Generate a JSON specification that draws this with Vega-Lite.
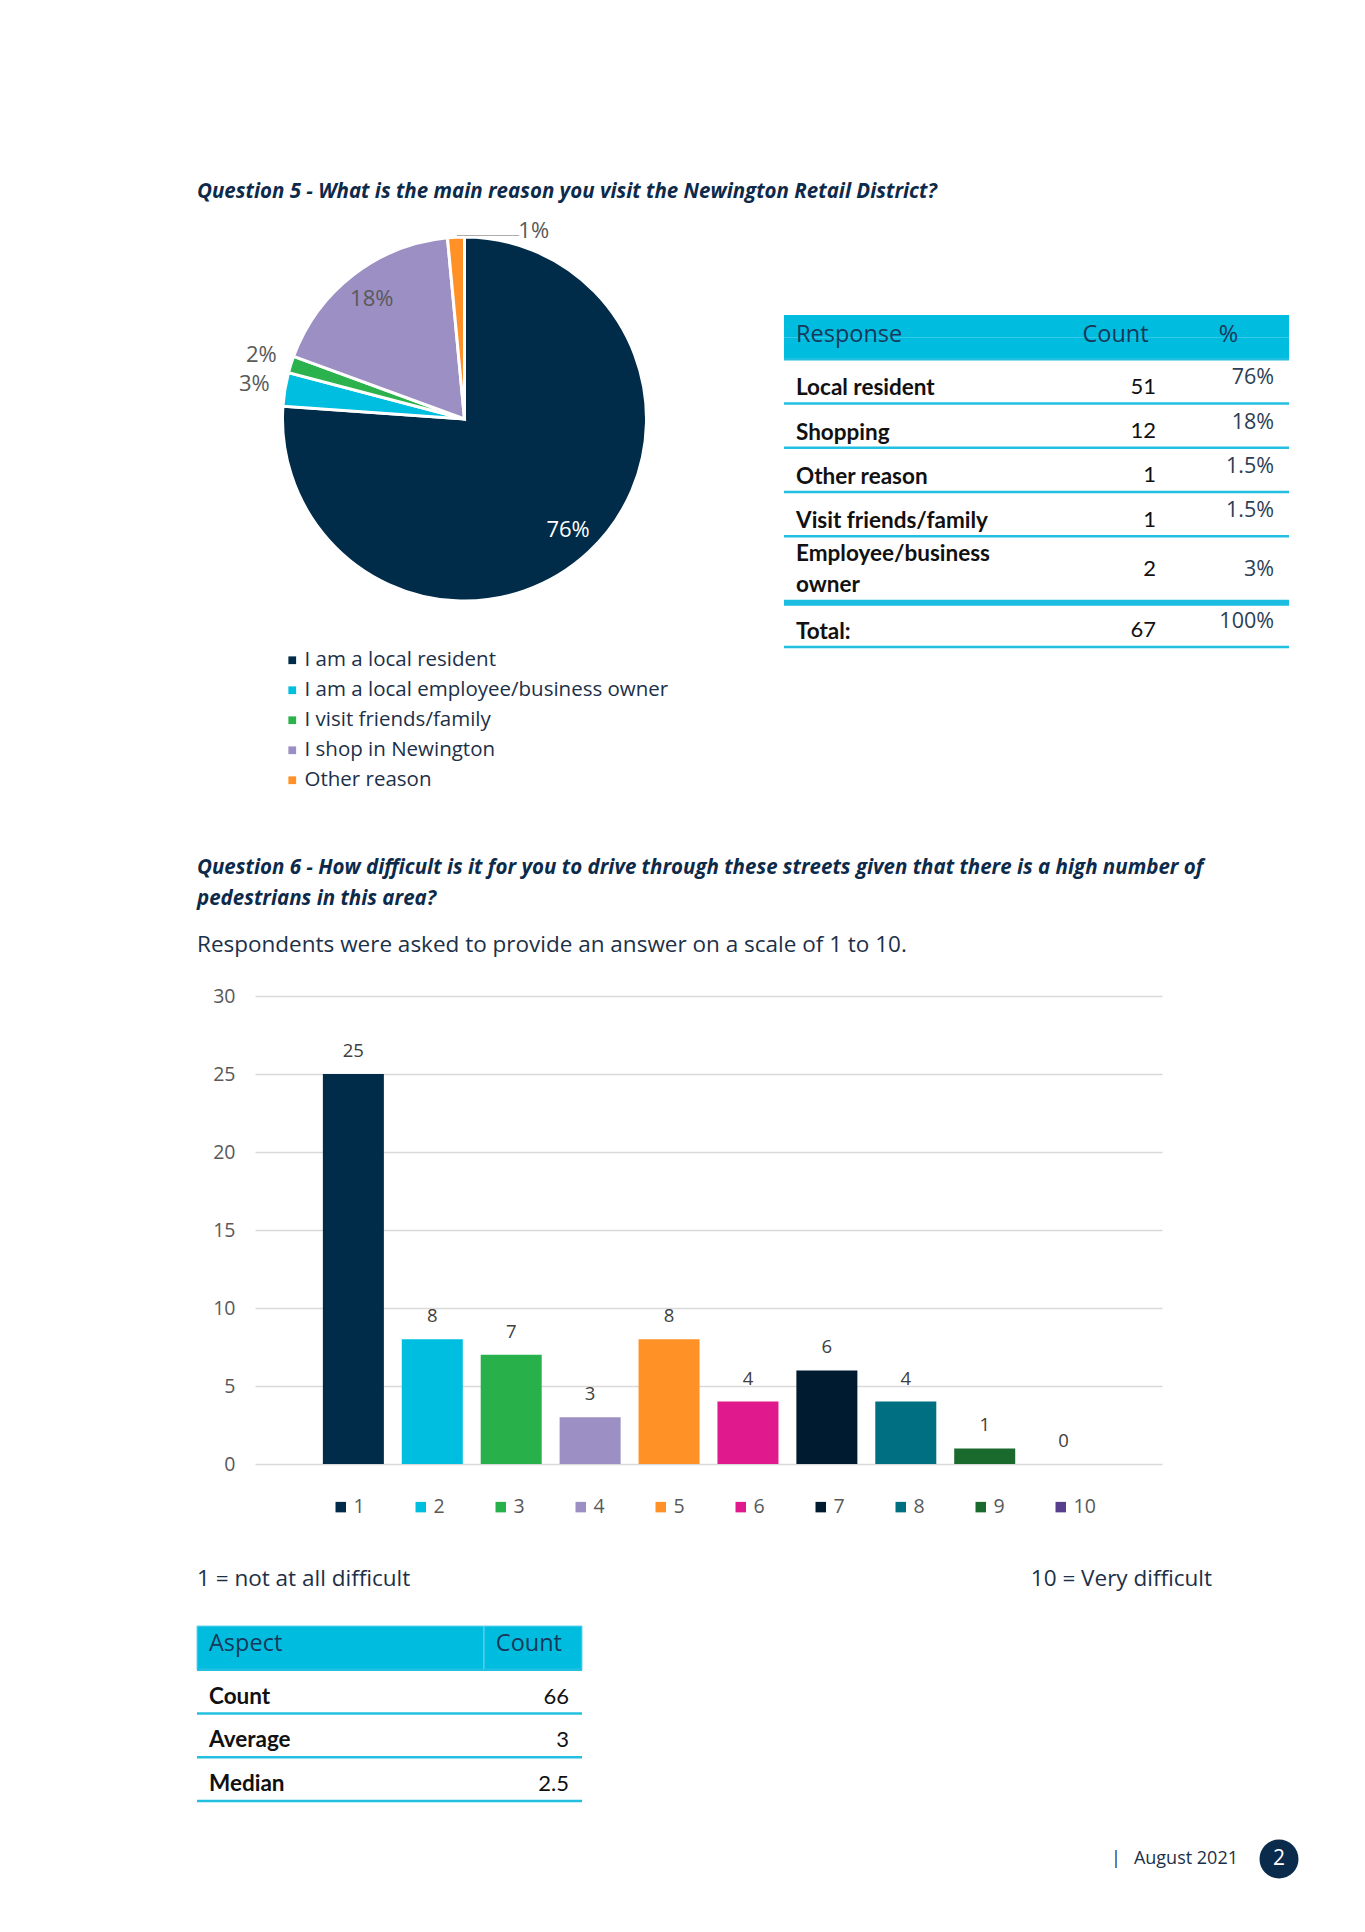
{
  "$schema": "https://vega.github.io/schema/vega-lite/v6.json",
  "autosize": "none",
  "padding": {"left": 197, "top": 315, "right": 1168, "bottom": 1617},
  "background": "white",
  "config": {"view": {"stroke": null}, "font": "Open Sans", "text": {"font": "Open Sans"}},
  "datasets": {
    "reasons": [
      {"option": 1, "reason": "I am a local resident", "count": 51, "label": "76%"},
      {"option": 2, "reason": "I am a local employee/business owner", "count": 2, "label": "3%"},
      {"option": 3, "reason": "I visit friends/family", "count": 1, "label": "2%"},
      {"option": 4, "reason": "I shop in Newington", "count": 12, "label": "18%"},
      {"option": 5, "reason": "Other reason", "count": 1, "label": "1%"}
    ],
    "q5table": [
      {"response": "Local resident", "label": "Local resident", "count": 51, "pct": "76%"},
      {"response": "Shopping", "label": "Shopping", "count": 12, "pct": "18%"},
      {"response": "Other reason", "label": "Other reason", "count": 1, "pct": "1.5%"},
      {"response": "Visit friends/family", "label": "Visit friends/family", "count": 1, "pct": "1.5%"},
      {"response": "Employee/business owner", "label": ["Employee/business", "owner"], "count": 2, "pct": "3%"},
      {"response": "Total:", "label": "Total:", "count": 67, "pct": "100%"}
    ],
    "q6": [
      {"score": 1, "count": 25}, {"score": 2, "count": 8}, {"score": 3, "count": 7}, {"score": 4, "count": 3}, {"score": 5, "count": 8},
      {"score": 6, "count": 4}, {"score": 7, "count": 6}, {"score": 8, "count": 4}, {"score": 9, "count": 1}, {"score": 10, "count": 0}
    ],
    "q6stats": [
      {"aspect": "Count", "value": "66"},
      {"aspect": "Average", "value": "3"},
      {"aspect": "Median", "value": "2.5"}
    ],
    "notes": [
      {"end": "low", "text": "1 = not at all difficult"},
      {"end": "high", "text": "10 = Very difficult"}
    ],
    "footer": [{"date": "August 2021", "page": "2"}]
  },
  "spacing": 0,
  "resolve": {"scale": {"color": "independent"}, "legend": {"color": "independent"}},
  "vconcat": [
    {
      "bounds": "flush",
      "spacing": 0,
      "hconcat": [
        {
          "width": 587, "height": 475,
          "data": {"name": "reasons"},
          "title": {"text": "Question 5 - What is the main reason you visit the Newington Retail District?", "anchor": "start", "frame": "group", "offset": -7, "font": "Open Sans", "fontSize": 20.5, "fontWeight": "bold", "fontStyle": "italic", "color": "#0d2a4a"},
          "encoding": {
            "theta": {"field": "count", "type": "quantitative", "stack": true},
            "order": {"field": "option", "type": "quantitative"},
            "color": {
              "field": "reason", "type": "nominal",
              "scale": {"domain": ["I am a local resident", "I am a local employee/business owner", "I visit friends/family", "I shop in Newington", "Other reason"], "range": ["#002b49", "#00bedf", "#2bb24c", "#9c8fc4", "#ff9126"]},
              "legend": {"orient": "none", "direction": "vertical", "legendX": 85, "legendY": 335, "title": null, "symbolType": "square", "symbolSize": 60, "symbolStrokeWidth": 0, "labelFont": "Open Sans", "labelFontSize": 20.5, "labelColor": "#1c3048", "labelOffset": 2, "rowPadding": 9, "labelLimit": 600, "padding": 0}
            }
          },
          "layer": [
            {"mark": {"type": "arc", "outerRadius": 182, "stroke": "white", "strokeWidth": 3, "xOffset": -26, "yOffset": -133.5}},
            {"mark": {"type": "text", "radius": 152, "xOffset": -26, "yOffset": -133.5, "fontSize": 22}, "encoding": {"text": {"condition": {"test": "datum.option === 1 || datum.option === 4", "field": "label"}, "value": ""}, "color": {"condition": {"test": "datum.option === 1", "value": "#ffffff"}, "value": "#595959"}}},
            {"mark": {"type": "text", "radius": 213, "xOffset": -26, "yOffset": -133.5, "fontSize": 22}, "encoding": {"text": {"condition": {"test": "datum.option === 2 || datum.option === 3", "field": "label"}, "value": ""}, "color": {"value": "#595959"}}},
            {"mark": {"type": "text", "radius": 188, "xOffset": 52, "yOffset": -133.5, "fontSize": 22}, "encoding": {"text": {"condition": {"test": "datum.option === 5", "field": "label"}, "value": ""}, "color": {"value": "#595959"}}},
            {"mark": {"type": "text", "radius": 182, "xOffset": -25, "yOffset": -135, "align": "left", "font": "DejaVu Sans Mono", "fontSize": 10.3}, "encoding": {"text": {"condition": {"test": "datum.option === 5", "value": "──────────"}, "value": ""}, "color": {"value": "#a6a6a6"}}}
          ]
        },
        {
          "width": 285, "height": 332,
          "data": {"name": "q5table"},
          "encoding": {"y": {"field": "response", "type": "nominal", "scale": {"domain": ["Response", "Response ", "Local resident", "Local resident ", "Shopping", "Shopping ", "Other reason", "Other reason ", "Visit friends/family", "Visit friends/family ", "Employee/business owner", "Employee/business owner ", "Employee/business owner  ", "Total:", "Total: "], "paddingInner": 0, "paddingOuter": 0}, "axis": {"orient": "left", "labels": false, "ticks": false, "grid": false, "title": null, "domainColor": "#22bfe0", "domainWidth": 2.5, "zindex": 1}}},
          "layer": [
            {"data": {"values": [{"response": "Response"}, {"response": "Response "}]}, "mark": {"type": "rect", "fill": "#00bde0"}},
            {"data": {"values": [{"response": "Response"}]}, "mark": {"type": "text", "align": "left", "dx": -130.5, "dy": 9, "fontSize": 23.5, "color": "#17385a"}, "encoding": {"text": {"field": "response"}}},
            {"mark": {"type": "rule", "color": "#22bfe0", "strokeWidth": 2.5}, "encoding": {"y": {"field": "response", "type": "nominal", "bandPosition": 0, "axis": null}}},
            {"data": {"values": [{"response": "Total: "}]}, "mark": {"type": "rule", "color": "#22bfe0", "strokeWidth": 2.5}, "encoding": {"y": {"field": "response", "type": "nominal", "bandPosition": 1, "axis": null}}},
            {"data": {"values": [{"response": "Total:"}]}, "mark": {"type": "rule", "color": "#1cbde0", "strokeWidth": 6}, "encoding": {"y": {"field": "response", "type": "nominal", "bandPosition": 0, "axis": null}}},
            {"transform": [{"filter": "datum.response !== 'Employee/business owner'"}], "mark": {"type": "text", "align": "left", "dx": -130.5, "dy": 18, "fontSize": 22.5, "font": "Lato", "fontWeight": "bold", "color": "#111111"}, "encoding": {"text": {"field": "label"}}},
            {"transform": [{"filter": "datum.response === 'Employee/business owner'"}], "mark": {"type": "text", "align": "left", "dx": -130.5, "dy": 7, "fontSize": 22.5, "font": "Lato", "fontWeight": "bold", "color": "#111111", "lineHeight": 31}, "encoding": {"text": {"field": "label"}}}
          ]
        },
        {
          "width": 99, "height": 332,
          "data": {"name": "q5table"},
          "encoding": {"y": {"field": "response", "type": "nominal", "scale": {"domain": ["Response", "Response ", "Local resident", "Local resident ", "Shopping", "Shopping ", "Other reason", "Other reason ", "Visit friends/family", "Visit friends/family ", "Employee/business owner", "Employee/business owner ", "Employee/business owner  ", "Total:", "Total: "], "paddingInner": 0, "paddingOuter": 0}, "axis": null}},
          "layer": [
            {"data": {"values": [{"response": "Response"}, {"response": "Response "}]}, "mark": {"type": "rect", "fill": "#00bde0"}},
            {"data": {"values": [{"response": "Response", "head": "Count"}]}, "mark": {"type": "text", "align": "left", "dx": -36, "dy": 9, "fontSize": 23.5, "color": "#17385a"}, "encoding": {"text": {"field": "head"}}},
            {"mark": {"type": "rule", "color": "#22bfe0", "strokeWidth": 2.5}, "encoding": {"y": {"field": "response", "type": "nominal", "bandPosition": 0, "axis": null}}},
            {"data": {"values": [{"response": "Total: "}]}, "mark": {"type": "rule", "color": "#22bfe0", "strokeWidth": 2.5}, "encoding": {"y": {"field": "response", "type": "nominal", "bandPosition": 1, "axis": null}}},
            {"data": {"values": [{"response": "Total:"}]}, "mark": {"type": "rule", "color": "#1cbde0", "strokeWidth": 6}, "encoding": {"y": {"field": "response", "type": "nominal", "bandPosition": 0, "axis": null}}},
            {"transform": [{"filter": "datum.response !== 'Employee/business owner'"}], "mark": {"type": "text", "align": "right", "dx": 37.5, "dy": 16.5, "fontSize": 22, "font": "Lato", "color": "#111111"}, "encoding": {"text": {"field": "count"}}},
            {"transform": [{"filter": "datum.response === 'Employee/business owner'"}], "mark": {"type": "text", "align": "right", "dx": 37.5, "dy": 21.5, "fontSize": 22, "font": "Lato", "color": "#111111"}, "encoding": {"text": {"field": "count"}}}
          ]
        },
        {
          "width": 121, "height": 332,
          "data": {"name": "q5table"},
          "encoding": {"y": {"field": "response", "type": "nominal", "scale": {"domain": ["Response", "Response ", "Local resident", "Local resident ", "Shopping", "Shopping ", "Other reason", "Other reason ", "Visit friends/family", "Visit friends/family ", "Employee/business owner", "Employee/business owner ", "Employee/business owner  ", "Total:", "Total: "], "paddingInner": 0, "paddingOuter": 0}, "axis": {"orient": "right", "labels": false, "ticks": false, "grid": false, "title": null, "domainColor": "#22bfe0", "domainWidth": 2.5, "zindex": 1}}},
          "layer": [
            {"data": {"values": [{"response": "Response"}, {"response": "Response "}]}, "mark": {"type": "rect", "fill": "#00bde0"}},
            {"data": {"values": [{"response": "Response", "head": "%"}]}, "mark": {"type": "text", "align": "center", "dx": 0, "dy": 9, "fontSize": 23.5, "color": "#17385a"}, "encoding": {"text": {"field": "head"}}},
            {"mark": {"type": "rule", "color": "#22bfe0", "strokeWidth": 2.5}, "encoding": {"y": {"field": "response", "type": "nominal", "bandPosition": 0, "axis": null}}},
            {"data": {"values": [{"response": "Total: "}]}, "mark": {"type": "rule", "color": "#22bfe0", "strokeWidth": 2.5}, "encoding": {"y": {"field": "response", "type": "nominal", "bandPosition": 1, "axis": null}}},
            {"data": {"values": [{"response": "Total:"}]}, "mark": {"type": "rule", "color": "#1cbde0", "strokeWidth": 6}, "encoding": {"y": {"field": "response", "type": "nominal", "bandPosition": 0, "axis": null}}},
            {"transform": [{"filter": "datum.response !== 'Employee/business owner'"}], "mark": {"type": "text", "align": "right", "dx": 45.5, "dy": 8, "fontSize": 21.5, "color": "#2c3e55"}, "encoding": {"text": {"field": "pct"}}},
            {"transform": [{"filter": "datum.response === 'Employee/business owner'"}], "mark": {"type": "text", "align": "right", "dx": 45.5, "dy": 22.5, "fontSize": 21.5, "color": "#2c3e55"}, "encoding": {"text": {"field": "pct"}}}
          ]
        }
      ]
    },
    {
      "bounds": "flush",
      "spacing": 0,
      "hconcat": [
        {"width": 58, "height": 1, "data": {"values": [{}]}, "mark": "text", "encoding": {"text": {"value": ""}}},
        {
          "width": 907, "height": 745,
          "data": {"name": "q6"},
          "title": {
            "text": ["Question 6 - How difficult is it for you to drive through these streets given that there is a high number of", "pedestrians in this area?"],
            "subtitle": "Respondents were asked to provide an answer on a scale of 1 to 10.",
            "anchor": "start", "frame": "group", "dx": -58, "offset": -159,
            "font": "Open Sans", "fontSize": 20.5, "fontWeight": "bold", "fontStyle": "italic", "color": "#0d2a4a", "lineHeight": 31,
            "subtitleFont": "Open Sans", "subtitleFontSize": 22.5, "subtitleColor": "#1c3048", "subtitlePadding": 24
          },
          "encoding": {
            "x": {"field": "score", "type": "ordinal", "scale": {"paddingInner": 0.227, "paddingOuter": 0.86}, "axis": null},
            "y": {"field": "count", "type": "quantitative", "scale": {"domain": [-5, 42.76], "nice": false, "zero": false}, "axis": {"values": [0, 5, 10, 15, 20, 25, 30], "domain": false, "ticks": false, "grid": true, "gridColor": "#d9d9d9", "gridWidth": 1.5, "labelFont": "Open Sans", "labelFontSize": 19.5, "labelColor": "#595959", "labelPadding": 20, "title": null}}
          },
          "layer": [
            {
              "mark": {"type": "bar"},
              "encoding": {
                "color": {
                  "field": "score", "type": "ordinal",
                  "scale": {"range": ["#002b49", "#00bedf", "#28b14a", "#9c8fc4", "#ff9126", "#e0198d", "#001a30", "#006f82", "#1b6a2d", "#573f8d"]},
                  "legend": {"orient": "none", "legendX": 134, "legendY": 700, "direction": "horizontal", "columns": 10, "gridAlign": "all", "columnPadding": 35, "title": null, "symbolType": "square", "symbolSize": 110, "symbolStrokeWidth": 0, "labelFont": "Open Sans", "labelFontSize": 19.5, "labelColor": "#595959", "labelOffset": 3, "padding": 0}
                }
              }
            },
            {"mark": {"type": "text", "dy": -23, "fontSize": 18.5, "color": "#404040"}, "encoding": {"text": {"field": "count", "type": "quantitative"}}}
          ]
        }
      ]
    },
    {
      "width": 1015, "height": 83,
      "data": {"name": "notes"},
      "encoding": {
        "x": {"field": "end", "type": "nominal", "scale": {"type": "point", "domain": ["low", "high"], "padding": 0}, "axis": null},
        "text": {"field": "text"}
      },
      "layer": [
        {"transform": [{"filter": "datum.end === 'low'"}], "mark": {"type": "text", "align": "left", "dy": -4.5, "fontSize": 22.5, "color": "#1c3048"}},
        {"transform": [{"filter": "datum.end === 'high'"}], "mark": {"type": "text", "align": "right", "dy": -4.5, "fontSize": 22.5, "color": "#1c3048"}}
      ]
    },
    {
      "bounds": "flush",
      "spacing": 0,
      "hconcat": [
        {
          "width": 287, "height": 175,
          "data": {"name": "q6stats"},
          "encoding": {"y": {"field": "aspect", "type": "nominal", "scale": {"domain": ["Aspect", "Count", "Average", "Median"], "paddingInner": 0, "paddingOuter": 0}, "axis": {"orient": "left", "labels": false, "ticks": false, "grid": false, "title": null, "domainColor": "#22bfe0", "domainWidth": 2.5, "zindex": 1}}},
          "layer": [
            {"data": {"values": [{"aspect": "Aspect"}]}, "mark": {"type": "rect", "fill": "#00bde0", "stroke": "#6ad2ea", "strokeWidth": 1}},
            {"data": {"values": [{"aspect": "Aspect"}]}, "mark": {"type": "text", "align": "left", "dx": -131.5, "dy": -4, "fontSize": 23.5, "color": "#17385a"}, "encoding": {"text": {"field": "aspect"}}},
            {"mark": {"type": "rule", "color": "#22bfe0", "strokeWidth": 2.5}, "encoding": {"y": {"field": "aspect", "type": "nominal", "bandPosition": 0, "axis": null}}},
            {"data": {"values": [{"aspect": "Median"}]}, "mark": {"type": "rule", "color": "#22bfe0", "strokeWidth": 2.5}, "encoding": {"y": {"field": "aspect", "type": "nominal", "bandPosition": 1, "axis": null}}},
            {"mark": {"type": "text", "align": "left", "dx": -131.5, "dy": 5, "fontSize": 22.5, "font": "Lato", "fontWeight": "bold", "color": "#111111"}, "encoding": {"text": {"field": "aspect"}}}
          ]
        },
        {
          "width": 98, "height": 175,
          "data": {"name": "q6stats"},
          "encoding": {"y": {"field": "aspect", "type": "nominal", "scale": {"domain": ["Aspect", "Count", "Average", "Median"], "paddingInner": 0, "paddingOuter": 0}, "axis": {"orient": "right", "labels": false, "ticks": false, "grid": false, "title": null, "domainColor": "#22bfe0", "domainWidth": 2.5, "zindex": 1}}},
          "layer": [
            {"data": {"values": [{"aspect": "Aspect", "head": "Count"}]}, "mark": {"type": "rect", "fill": "#00bde0", "stroke": "#6ad2ea", "strokeWidth": 1}},
            {"data": {"values": [{"aspect": "Aspect", "head": "Count"}]}, "mark": {"type": "text", "align": "right", "dx": 29, "dy": -4, "fontSize": 23.5, "color": "#17385a"}, "encoding": {"text": {"field": "head"}}},
            {"mark": {"type": "rule", "color": "#22bfe0", "strokeWidth": 2.5}, "encoding": {"y": {"field": "aspect", "type": "nominal", "bandPosition": 0, "axis": null}}},
            {"data": {"values": [{"aspect": "Median"}]}, "mark": {"type": "rule", "color": "#22bfe0", "strokeWidth": 2.5}, "encoding": {"y": {"field": "aspect", "type": "nominal", "bandPosition": 1, "axis": null}}},
            {"mark": {"type": "text", "align": "right", "dx": 36, "dy": 5, "fontSize": 22, "font": "Lato", "color": "#111111"}, "encoding": {"text": {"field": "value"}}}
          ]
        },
        {
          "width": 697, "height": 233,
          "data": {"name": "footer"},
          "encoding": {"x": {"value": "width"}, "y": {"value": "height"}},
          "layer": [
            {"mark": {"type": "text", "align": "center", "dx": -163, "fontSize": 18, "color": "#1c3048"}, "encoding": {"text": {"value": "|"}}},
            {"mark": {"type": "text", "align": "right", "dx": -41, "fontSize": 18, "color": "#1c3048"}, "encoding": {"text": {"field": "date"}}},
            {"mark": {"type": "circle", "size": 1520, "color": "#0b2b4c", "opacity": 1}},
            {"mark": {"type": "text", "align": "center", "fontSize": 21, "color": "#ffffff"}, "encoding": {"text": {"field": "page"}}}
          ]
        }
      ]
    }
  ]
}
